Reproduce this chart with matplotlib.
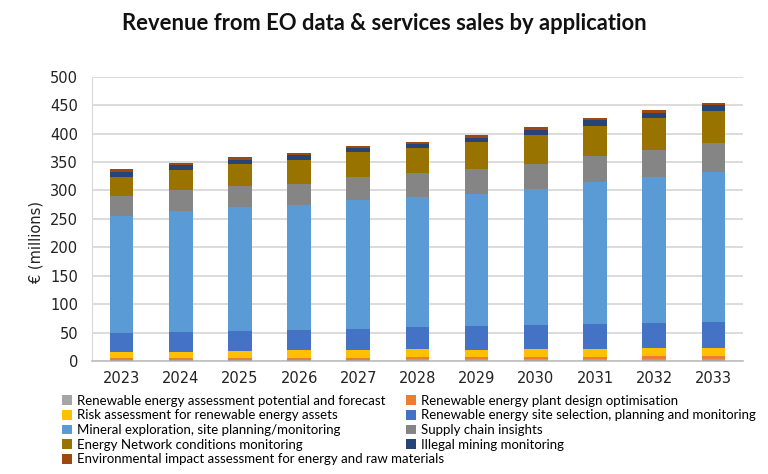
import numpy as np
import matplotlib
matplotlib.use("Agg")
import matplotlib.pyplot as plt
from matplotlib.patches import Patch

years = ["2023", "2024", "2025", "2026", "2027", "2028",
         "2029", "2030", "2031", "2032", "2033"]

series_names = [
    "Renewable energy assessment potential and forecast",
    "Renewable energy plant design optimisation",
    "Risk assessment for renewable energy assets",
    "Renewable energy site selection, planning and monitoring",
    "Mineral exploration, site planning/monitoring",
    "Supply chain insights",
    "Energy Network conditions monitoring",
    "Illegal mining monitoring",
    "Environmental impact assessment for energy and raw materials",
]

# € millions per application
re_assessment = [2, 2, 2, 2, 2.5, 3, 3, 3, 3.5, 3.5, 4]
re_plant_design = [2.5, 2.5, 3, 3, 3, 3.5, 3.5, 4, 4, 4.5, 5]
risk_assessment = [11.5, 11.5, 12.5, 14, 13.5, 14.5, 13.5, 14.5, 14, 14, 14.5]
re_site_selection = [34, 35, 35.5, 36, 38, 39, 42, 42.5, 43.5, 45, 45.5]
mineral_exploration = [205, 212, 217, 219, 226, 228, 232, 238, 249, 256, 264]
supply_chain = [35, 37, 38, 38, 40, 42, 43, 45, 46, 48, 50]
energy_network = [34, 36, 38, 41, 44, 44, 48, 51, 54, 56, 57]
illegal_mining = [9, 8, 8, 9.5, 7.5, 8, 8, 9, 10, 10, 10]
env_impact = [4, 4, 4, 4, 3, 4, 4, 4, 4, 4, 4]

series = [re_assessment, re_plant_design, risk_assessment, re_site_selection,
          mineral_exploration, supply_chain, energy_network, illegal_mining,
          env_impact]
colors = ["#A5A5A5", "#ED7D31", "#FFC000", "#4472C4", "#5B9BD5",
          "#858585", "#997300", "#264478", "#9E480E"]

fig = plt.figure(figsize=(7.68, 4.74), dpi=100)
ax = fig.add_axes([0.1198, 0.2384, 0.8476, 0.5998])

x = np.arange(len(years))
bottom = np.zeros(len(years))
for vals, col in zip(series, colors):
    vals = np.asarray(vals, dtype=float)
    ax.bar(x, vals, width=0.4, bottom=bottom, color=col, zorder=3)
    bottom += vals

ax.set_xlim(-0.5, len(years) - 0.5)
ax.set_ylim(0, 500)
ax.set_yticks(np.arange(0, 501, 50))
ax.set_xticks(x)
ax.set_xticklabels(years)
ax.tick_params(axis="both", length=0, labelsize=10.5, colors="#222222")
ax.tick_params(axis="x", pad=7)
ax.tick_params(axis="y", pad=10)
ax.yaxis.grid(True, color="#D9D9D9", linewidth=1.3, zorder=0)
for side in ("top", "right"):
    ax.spines[side].set_visible(False)
ax.spines["left"].set_color("#D9D9D9")
ax.spines["bottom"].set_color("#BFBFBF")
ax.spines["bottom"].set_linewidth(1.2)

ax.set_ylabel("€ (millions)", fontsize=10.5, color="#222222")
ax.yaxis.set_label_coords(-0.075, 0.42)

fig.text(0.5, 0.951, "Revenue from EO data & services sales by application",
         ha="center", va="center", fontsize=15.8, fontweight="bold",
         family="Lato", color="#111111")

# legend below the plot, two columns filled row by row (Excel style);
# drawn as two legends so the long last entry can run under column 2
handles = [Patch(facecolor=c) for c in colors]
leg_kw = dict(loc="upper left", bbox_transform=fig.transFigure,
              frameon=False, prop={"family": "Lato", "size": 9.5},
              handlelength=0.75, handleheight=0.75, handletextpad=0.42,
              labelspacing=0.2, borderaxespad=0, borderpad=0)
left_idx = [0, 2, 4, 6, 8]
right_idx = [1, 3, 5, 7]
fig.legend([handles[i] for i in left_idx], [series_names[i] for i in left_idx],
           bbox_to_anchor=(0.0807, 0.167), **leg_kw)
fig.legend([handles[i] for i in right_idx], [series_names[i] for i in right_idx],
           bbox_to_anchor=(0.5286, 0.167), **leg_kw)

fig.savefig("out.png", dpi=100)
